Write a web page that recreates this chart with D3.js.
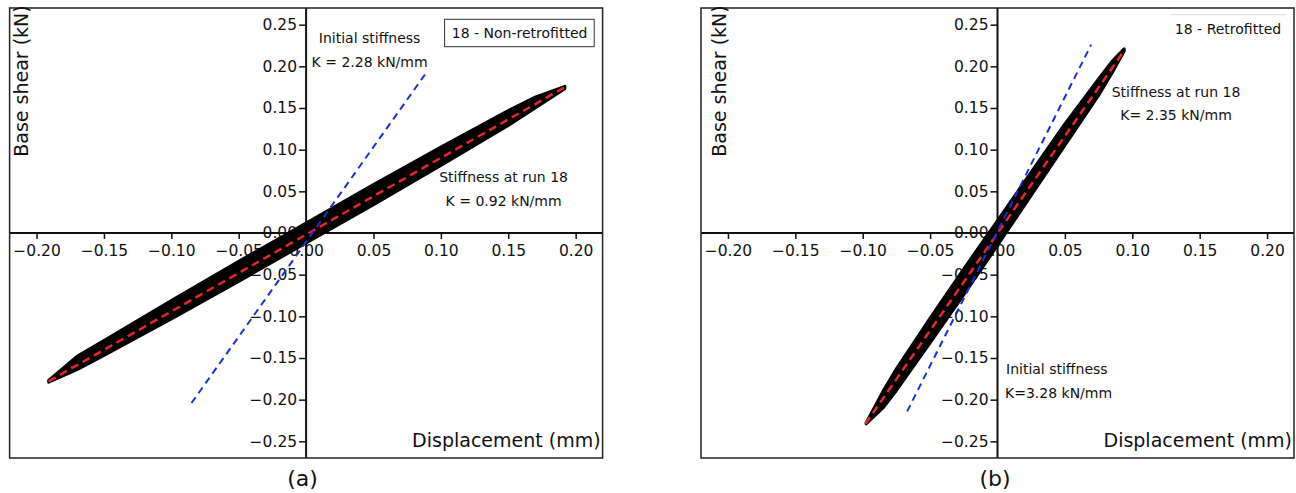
<!DOCTYPE html>
<html>
<head>
<meta charset="utf-8">
<script src="https://cdn.jsdelivr.net/npm/d3@7"></script>
<style>
  body { margin: 0; background: #fff; }
  text { font-family: "DejaVu Sans", sans-serif; fill: #111; }
  .tick text { font-size: 15.5px; }
  .axis-label { font-size: 19px; }
  .note { font-size: 14px; }
</style>
</head>
<body>
<svg width="1296" height="493"></svg>
<script>
(function (d3) {
  'use strict';

  // tick values shared by both panels
  const xTicks = [-0.20, -0.15, -0.10, -0.05, 0.00, 0.05, 0.10, 0.15, 0.20];
  const yTicks = [-0.25, -0.20, -0.15, -0.10, -0.05, 0.00, 0.05, 0.10, 0.15, 0.20, 0.25];

  // (a) non-retrofitted: hysteresis band [displacement mm, base shear kN]
  const bandUpperA = [[-0.191, -0.177], [-0.17, -0.148], [-0.15, -0.129], [-0.10, -0.081], [-0.05, -0.034],
    [0.00, 0.012], [0.05, 0.058], [0.10, 0.103], [0.15, 0.147], [0.17, 0.163], [0.192, 0.176]];
  const bandLowerA = [[0.192, 0.173], [0.17, 0.150], [0.15, 0.129], [0.10, 0.081], [0.05, 0.034],
    [0.00, -0.012], [-0.05, -0.058], [-0.10, -0.103], [-0.15, -0.147], [-0.17, -0.164], [-0.191, -0.179]];
  const fitA = [[-0.191, -0.178], [0.192, 0.175]];
  const initialA = [[-0.085, -0.204], [0.089, 0.192]];

  // (b) retrofitted
  const bandUpperB = [[-0.0975, -0.228], [-0.085, -0.190], [-0.075, -0.163], [-0.05, -0.102], [-0.025, -0.043],
    [0.00, 0.015], [0.025, 0.073], [0.05, 0.131], [0.075, 0.185], [0.085, 0.206], [0.094, 0.221]];
  const bandLowerB = [[0.094, 0.218], [0.085, 0.192], [0.075, 0.165], [0.05, 0.105], [0.025, 0.045],
    [0.00, -0.015], [-0.025, -0.074], [-0.05, -0.132], [-0.075, -0.189], [-0.085, -0.210], [-0.0975, -0.229]];
  const fitB = [[-0.098, -0.229], [0.094, 0.219]];
  const initialB = [[-0.067, -0.214], [0.0695, 0.226]];

  const svg = d3.select('svg');
  const panelW = 593;
  const panelH = 450;

  const drawPanel = (left, top, p) => {
    const g = svg.append('g').attr('transform', `translate(${left},${top})`);

    const xScale = d3.scaleLinear().domain([-0.22, 0.22]).range([0, panelW]);
    const yScale = d3.scaleLinear().domain([-0.27, 0.27]).range([panelH, 0]);
    const fmt = d3.format('.2f');

    const xAxisG = g.append('g')
      .attr('transform', `translate(0,${yScale(0)})`)
      .call(d3.axisBottom(xScale).tickValues(xTicks).tickFormat(fmt).tickSize(6).tickPadding(6));
    xAxisG.select('.domain').remove();

    const yAxisG = g.append('g')
      .attr('transform', `translate(${xScale(0)},0)`)
      .call(d3.axisLeft(yScale).tickValues(yTicks).tickFormat(fmt).tickSize(7).tickPadding(2));
    yAxisG.select('.domain').remove();
    g.selectAll('.tick line').attr('stroke', '#111').attr('stroke-width', 1.5);

    // axes through origin
    g.append('line')
      .attr('x1', 0).attr('x2', panelW)
      .attr('y1', yScale(0)).attr('y2', yScale(0))
      .attr('stroke', '#111').attr('stroke-width', 2);
    g.append('line')
      .attr('x1', xScale(0)).attr('x2', xScale(0))
      .attr('y1', 0).attr('y2', panelH)
      .attr('stroke', '#111').attr('stroke-width', 2);

    const line = d3.line()
      .x(d => xScale(d[0]))
      .y(d => yScale(d[1]));

    // hysteresis loops
    g.append('path')
      .attr('d', line(p.upper.concat(p.lower)) + 'Z')
      .attr('fill', '#000')
      .attr('stroke', '#000')
      .attr('stroke-width', 3)
      .attr('stroke-linejoin', 'round');

    g.append('path')
      .attr('d', line(p.fit))
      .attr('fill', 'none')
      .attr('stroke', '#e8262a')
      .attr('stroke-width', 2.5)
      .attr('stroke-dasharray', '8,5');

    g.append('path')
      .attr('d', line(p.initial))
      .attr('fill', 'none')
      .attr('stroke', '#1c2fd6')
      .attr('stroke-width', 2)
      .attr('stroke-dasharray', '7,5');

    // frame
    g.append('rect')
      .attr('width', panelW).attr('height', panelH)
      .attr('fill', 'none').attr('stroke', '#222').attr('stroke-width', 1.5);

    g.append('text')
      .attr('class', 'axis-label')
      .attr('x', panelW - 2).attr('y', 439)
      .attr('text-anchor', 'end')
      .text('Displacement (mm)');

    g.append('text')
      .attr('class', 'axis-label')
      .attr('transform', `translate(${p.yLabelX},73) rotate(-90)`)
      .attr('text-anchor', 'middle')
      .attr('dy', '0.35em')
      .text('Base shear (kN)');

    p.notes.forEach(n => {
      g.append('text')
        .attr('class', 'note')
        .attr('x', n.x).attr('y', n.y)
        .attr('text-anchor', n.anchor)
        .text(n.text);
    });

    if (p.box) {
      g.append('rect')
        .attr('x', p.box.x).attr('y', p.box.y)
        .attr('width', p.box.w).attr('height', p.box.h)
        .attr('fill', '#fff').attr('stroke', '#333').attr('stroke-width', 1);
    }
    if (p.topRule) {
      g.append('line')
        .attr('x1', p.topRule[0]).attr('x2', p.topRule[1])
        .attr('y1', 6.7).attr('y2', 6.7)
        .attr('stroke', '#ddd').attr('stroke-width', 1);
    }
    g.append('text')
      .attr('class', 'note')
      .attr('x', p.title.x).attr('y', p.title.y)
      .attr('text-anchor', 'middle')
      .text(p.title.text);

    svg.append('text')
      .attr('x', left + p.capX).attr('y', 486)
      .attr('text-anchor', 'middle')
      .style('font-size', '22px')
      .text(p.caption);
  };

  drawPanel(9.6, 8, {
    upper: bandUpperA, lower: bandLowerA, fit: fitA, initial: initialA,
    yLabelX: 11.4,
    notes: [
      { text: 'Initial stiffness', x: 360, y: 35, anchor: 'middle' },
      { text: 'K = 2.28 kN/mm', x: 360, y: 59, anchor: 'middle' },
      { text: 'Stiffness at run 18', x: 494, y: 174, anchor: 'middle' },
      { text: 'K = 0.92 kN/mm', x: 494, y: 198, anchor: 'middle' }
    ],
    box: { x: 435, y: 11.3, w: 149.6, h: 27.4 },
    title: { text: '18 - Non-retrofitted', x: 510, y: 30 },
    capX: 293, caption: '(a)'
  });

  drawPanel(701, 8, {
    upper: bandUpperB, lower: bandLowerB, fit: fitB, initial: initialB,
    yLabelX: 18,
    notes: [
      { text: 'Stiffness at run 18', x: 475, y: 89, anchor: 'middle' },
      { text: 'K= 2.35 kN/mm', x: 475, y: 112, anchor: 'middle' },
      { text: 'Initial stiffness', x: 305, y: 366, anchor: 'start' },
      { text: 'K=3.28 kN/mm', x: 304, y: 390, anchor: 'start' }
    ],
    topRule: [470, 585],
    title: { text: '18 - Retrofitted', x: 527, y: 26 },
    capX: 294, caption: '(b)'
  });

}(d3));
</script>
</body>
</html>
